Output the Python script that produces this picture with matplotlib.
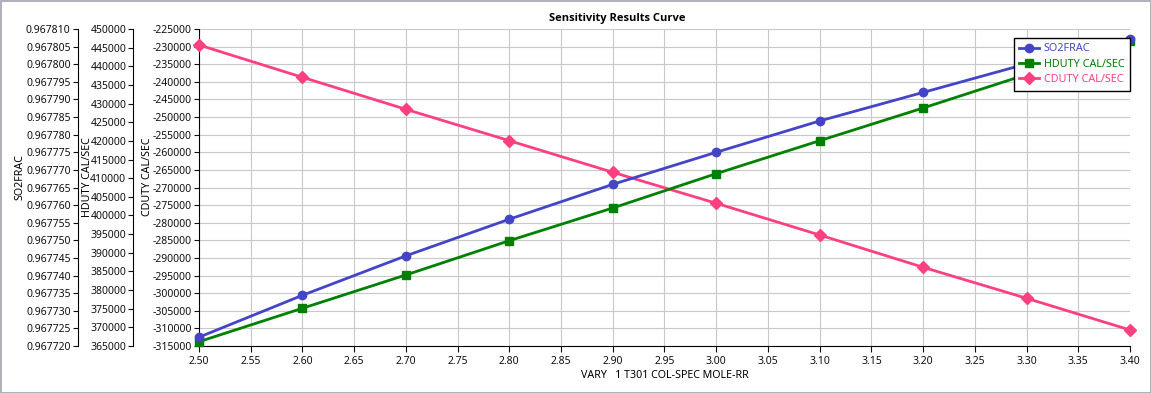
import numpy as np
import matplotlib
matplotlib.use('Agg')
import matplotlib.pyplot as plt
from matplotlib.ticker import FormatStrFormatter
from matplotlib.patches import Rectangle

plt.rcParams['font.family'] = ['Noto Sans', 'DejaVu Sans']
plt.rcParams['font.size'] = 7.5

#data
rr = [2.5, 2.6, 2.7, 2.8, 2.9, 3.0, 3.1, 3.2, 3.3, 3.4]
so2frac = [0.9677225, 0.9677344, 0.9677456, 0.9677560, 0.9677659,
           0.9677750, 0.9677839, 0.9677920, 0.9678001, 0.9678071]
hduty = [366160, 375120, 384050, 393240, 402010, 411210, 420050, 428820, 437800, 446860]
cduty = [-229540, -238710, -247800, -256710, -265680, -274480, -283480, -292650, -301450, -310450]

x_ticks = np.arange(2.50, 3.401, 0.05)
so2_ticks = np.arange(0.967720, 0.9678101, 0.000005)
hduty_ticks = np.arange(365000, 450001, 5000)
cduty_ticks = np.arange(-315000, -224999, 5000)

blue = '#4444c8'; green = '#008000'; pink = '#ff4080'

W, H = 1151, 393
fig = plt.figure(figsize=(W/100, H/100), dpi=100)
ax = fig.add_axes([199/W, (H-346)/H, 931/W, 317/H])   # CDUTY axis (innermost)
ax_h = ax.twinx()
ax_s = ax.twinx()

#move the twin axes to the left side as extra spines
for a, off in ((ax_h, -0.0706), (ax_s, -0.1303)):
    a.spines['left'].set_visible(True)
    a.spines['left'].set_position(('axes', off))
    a.spines['right'].set_visible(False)
    a.spines['top'].set_visible(False)
    a.spines['bottom'].set_visible(False)
    a.yaxis.set_ticks_position('left')
    a.yaxis.set_label_position('left')

ax.spines['top'].set_visible(False)
ax.spines['right'].set_visible(False)

for a in (ax, ax_h, ax_s):
    a.tick_params(axis='y', direction='out', length=3.5, width=0.8, pad=1.5, colors='#101010')
ax.tick_params(axis='x', direction='out', length=4, width=0.8, pad=3, colors='#101010')

#plot series
l3, = ax.plot(rr, cduty, color=pink, lw=2, marker='D', ms=6, label='CDUTY CAL/SEC', zorder=3)
l2, = ax_h.plot(rr, hduty, color=green, lw=2, marker='s', ms=6, label='HDUTY CAL/SEC')
l1, = ax_s.plot(rr, so2frac, color=blue, lw=2, marker='o', ms=6, label='SO2FRAC')
for l in (l1, l2, l3):
    l.set_clip_on(False)

ax.set_xlim(2.5, 3.4); ax.set_xticks(x_ticks)
ax.xaxis.set_major_formatter(FormatStrFormatter('%.2f'))
ax.set_ylim(-315000, -225000); ax.set_yticks(cduty_ticks)
ax.yaxis.set_major_formatter(FormatStrFormatter('%d'))
ax_h.set_ylim(365000, 450000); ax_h.set_yticks(hduty_ticks)
ax_h.yaxis.set_major_formatter(FormatStrFormatter('%d'))
ax_s.set_ylim(0.967720, 0.967810); ax_s.set_yticks(so2_ticks)
ax_s.yaxis.set_major_formatter(FormatStrFormatter('%.6f'))

ax.grid(True, color='#c8c8c8', lw=0.8)
ax.set_axisbelow(True)

#labels and title
fig.text(617/W, (H-18)/H, 'Sensitivity Results Curve', ha='center', va='center', fontsize=8,
         fontweight='bold', family=['Open Sans', 'DejaVu Sans'])
fig.text(665/W, (H-376)/H, 'VARY   1 T301 COL-SPEC MOLE-RR', ha='center', va='center', fontsize=7.7)
fig.text(20/W, (H-177)/H, 'SO2FRAC', rotation=90, ha='center', va='center', fontsize=7.7)
fig.text(88/W, (H-177)/H, 'HDUTY CAL/SEC', rotation=90, ha='center', va='center', fontsize=7.7)
fig.text(148/W, (H-177)/H, 'CDUTY CAL/SEC', rotation=90, ha='center', va='center', fontsize=7.7)

leg = fig.legend(handles=[l1, l2, l3], loc='upper right', bbox_to_anchor=(1130/W, (H-38)/H),
                 fancybox=False, framealpha=1, edgecolor='black', handlelength=1.8, fontsize=7.8,
                 borderpad=0.5, labelspacing=0.4, handletextpad=0.5, borderaxespad=0)
leg.get_frame().set_linewidth(1)
for t, c in zip(leg.get_texts(), (blue, green, pink)):
    t.set_color(c)

#outer frame of the picture
fig.patches.append(Rectangle((0.5/W, 0.5/H), 1-1/W, 1-1/H, transform=fig.transFigure,
                             fill=False, edgecolor='#a0a4ac', lw=1.2))

fig.savefig('out.png', dpi=100)
